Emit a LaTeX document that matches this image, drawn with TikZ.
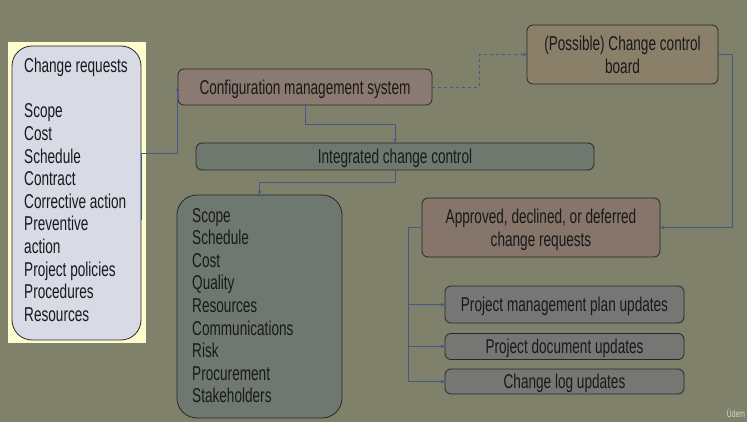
\documentclass[tikz,border=0pt]{standalone}
\usepackage{fontspec}
\setmainfont{Liberation Sans}[FakeStretch=0.68]
\usetikzlibrary{arrows.meta}
\definecolor{bg}{RGB}{127,129,106}
\definecolor{hl}{RGB}{255,252,205}
\definecolor{lav}{RGB}{216,218,230}
\definecolor{cfgfill}{RGB}{139,122,113}
\definecolor{ccbfill}{RGB}{138,127,105}
\definecolor{iccfill}{RGB}{111,120,110}
\definecolor{lstfill}{RGB}{111,120,112}
\definecolor{aprfill}{RGB}{133,117,106}
\definecolor{updfill}{RGB}{118,118,117}
\definecolor{edge}{RGB}{40,40,40}
\definecolor{txt}{RGB}{25,25,25}
\definecolor{link}{RGB}{68,88,140}
\begin{document}
\begin{tikzpicture}[x=1pt,y=-1pt,
  box/.style={draw=edge, line width=0.8pt, rounded corners=6pt, inner sep=0pt,
    font=\fontsize{20}{22.6}\selectfont, text=txt, align=center, text depth=0pt},
  bigbox/.style={box, rounded corners=20pt},
  listtext/.style={inner sep=0pt, anchor=north west, align=left, text=txt,
    font=\fontsize{20}{22.6}\selectfont},
  linkline/.style={draw=link, line width=0.9pt},
  conn/.style={linkline, -{Stealth[length=4pt,width=4pt]}}]
\fill[bg] (0,0) rectangle (747,422);
\useasboundingbox (0,0) rectangle (747,422);
% highlight
\fill[hl] (8,42) rectangle (146,343);
% nodes
\node[bigbox, fill=lav, minimum width=129pt, minimum height=294pt] (cr) at (76.5,193) {};
\node[listtext] (crtext) at (24,58) {Change requests\\[22.6pt]Scope\\Cost\\Schedule\\Contract\\Corrective action\\Preventive\\action\\Project policies\\Procedures\\Resources};
\node[box, fill=cfgfill, minimum width=254pt, minimum height=36pt] (cms) at (305,87) {Configuration management system};
\node[box, fill=ccbfill, minimum width=191pt, minimum height=59pt] (ccb) at (622.5,54.5) {(Possible) Change control\\board};
\node[box, fill=iccfill, minimum width=398pt, minimum height=27pt] (icc) at (395,156.5) {Integrated change control};
\node[bigbox, fill=lstfill, minimum width=165pt, minimum height=223pt] (lst) at (259.5,306.5) {};
\node[listtext] (lsttext) at (192,208) {Scope\\Schedule\\Cost\\Quality\\Resources\\Communications\\Risk\\Procurement\\Stakeholders};
\node[box, fill=aprfill, minimum width=238pt, minimum height=59pt] (apr) at (541,227.5) {Approved, declined, or deferred\\change requests};
\node[box, fill=updfill, minimum width=239pt, minimum height=37pt] (pm) at (564.5,304.5) {Project management plan updates};
\node[box, fill=updfill, minimum width=239pt, minimum height=26pt] (doc) at (564.5,346.5) {Project document updates};
\node[box, fill=updfill, minimum width=239pt, minimum height=25pt] (log) at (564.5,381.5) {Change log updates};
\node[inner sep=0pt, text=white!70!bg, font=\fontsize{10}{10}\selectfont] (wm) at (736,413) {Üdem};
% connectors
\coordinate (crA) at (141,220);
\coordinate (crB) at (141,153);
\draw[conn] (crA) -- (crB) -| (cms.west);
\draw[conn] (cms.south) -- ++(0,19) -| (icc.north);
\draw[conn] (icc.south) -- ++(0,12) -| (lst.north);
\draw[conn, dashed] (cms.east) -- ++(47,0) |- (ccb.west);
\draw[conn] (ccb.east) -- ++(14,0) |- (apr.east);
\coordinate (trunk) at (408,227.5);
\draw[linkline] (apr.west) -- (trunk);
\draw[conn] (trunk) |- (pm.west);
\draw[conn] (trunk) |- (doc.west);
\draw[conn] (trunk) |- (log.west);
\end{tikzpicture}
\end{document}
